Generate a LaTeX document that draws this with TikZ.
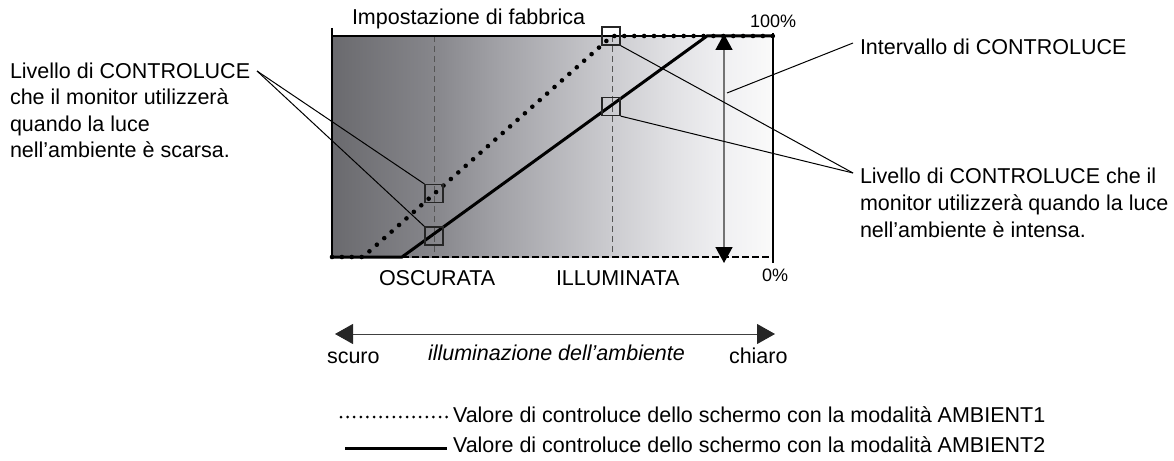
\documentclass[tikz,border=0pt]{standalone}
\usepackage{fontspec}
\setmainfont{Liberation Sans}
\usetikzlibrary{arrows.meta}
\definecolor{g0}{RGB}{106,106,110}
\definecolor{g1}{RGB}{134,134,139}
\definecolor{g2}{RGB}{162,162,167}
\definecolor{g3}{RGB}{204,204,208}
\definecolor{g4}{RGB}{225,225,228}
\definecolor{g5}{RGB}{240,240,242}
\definecolor{g6}{RGB}{250,250,250}
\definecolor{guidegray}{RGB}{85,85,85}
\pgfdeclarehorizontalshading{bggrad}{100bp}{color(0bp)=(g0); color(25bp)=(g0); color(36.5bp)=(g1); color(44bp)=(g2); color(56.75bp)=(g3); color(63.5bp)=(g4); color(69.5bp)=(g5); color(75bp)=(g6); color(100bp)=(g6)}
\begin{document}
\begin{tikzpicture}[x=1pt,y=-1pt,
  font=\fontsize{21.5}{25}\selectfont,
  txt/.style={anchor=base west, inner sep=0pt, outer sep=0pt},
  pct/.style={txt, font=\fontsize{18}{21}\selectfont},
  pointer/.style={line width=1pt, black},
  sq/.style={draw=black!85, line width=1.2pt, minimum size=18pt, inner sep=0pt},
  amb1/.style={line width=4.6pt, dash pattern=on 0pt off 9.9pt, line cap=round},
  amb1leg/.style={line width=3pt, dash pattern=on 0pt off 6.6pt, line cap=round},
  amb2/.style={line width=3pt},
  guide/.style={guidegray, line width=1pt, dash pattern=on 6pt off 4pt},
  edge/.style={black, line width=1.2pt}
]
\useasboundingbox (0,0) rectangle (1174,460);

% background gradient
\shade[shading=bggrad] (332,36) rectangle (773,257);

% corners
\coordinate (TL) at (332,36);
\coordinate (TLx) at (332,28);
\coordinate (TR) at (773,36);
\coordinate (TRx) at (773,33);
\coordinate (BL) at (332,257);
\coordinate (BR) at (773,257);
\coordinate (BRx) at (773,263);

% guides
\coordinate (gOt) at (434,36);
\coordinate (gOb) at (434,257);
\coordinate (gIt) at (612,36);
\coordinate (gIb) at (612,257);
\draw[guide] (gOt) -- (gOb);
\draw[guide] (gIt) -- (gIb);

% frame
\draw[edge] (TLx) -- (BL);
\draw[edge] (TRx) -- (BRx);
\draw[edge] (TL) -- (TR);
\draw[edge, dash pattern=on 6.5pt off 3.5pt] (BL) -- (BR);

% AMBIENT2 (solid)
\coordinate (a2s) at (402,257);
\coordinate (a2t) at (707,36);
\draw[amb2] (BL) -- (a2s) -- (a2t) -- (TR);

% AMBIENT1 (dotted)
\coordinate (a1s) at (363,257);
\coordinate (a1t) at (612,36);
\draw[amb1] (BL) -- (a1s) -- (a1t) -- (TR);

% squares
\node[sq] (sqA) at (434,193.5) {};
\node[sq] (sqB) at (434,236) {};
\node[sq] (sqC) at (611,36) {};
\node[sq] (sqD) at (611,106.5) {};

% range arrow
\coordinate (rTop) at (724,34);
\coordinate (rBot) at (724,263);
\draw[line width=1.5pt, black!55, {Triangle[length=16pt,width=17pt,black]}-{Triangle[length=16pt,width=17pt,black]}] (rTop) -- (rBot);

% texts
\node[txt] (fab) at (352,25) {Impostazione di fabbrica};
\node[pct] (p100) at (750,28) {100\%};
\node[pct] (p0) at (762,281) {0\%};
\node[txt] (osc) at (379,285) {OSCURATA};
\node[txt] (ill) at (556,285) {ILLUMINATA};

\node[txt] (lowL1) at (10,78) {Livello di CONTROLUCE};
\node[txt] (lowL2) at (10,104.5) {che il monitor utilizzerà};
\node[txt] (lowL3) at (10,131) {quando la luce};
\node[txt] (lowL4) at (10,157) {nell’ambiente è scarsa.};

\node[txt] (rng) at (860,55) {Intervallo di CONTROLUCE};

\node[txt] (hiL1) at (860,183) {Livello di CONTROLUCE che il};
\node[txt] (hiL2) at (860,210) {monitor utilizzerà quando la luce};
\node[txt] (hiL3) at (860,237) {nell’ambiente è intensa.};

% pointers
\coordinate (lowTip) at (257,71);
\draw[pointer] (lowTip) -- (sqA.north west);
\draw[pointer] (lowTip) -- (sqB.north west);
\coordinate (hiTip) at (853,173);
\draw[pointer] (sqC.south east) -- (hiTip);
\draw[pointer] (sqD.south east) -- (hiTip);
\coordinate (rngTip) at (853,43);
\coordinate (rngEnd) at (727,93);
\draw[pointer] (rngTip) -- (rngEnd);

% ambient illumination axis
\coordinate (axL) at (335,334);
\coordinate (axR) at (775,334);
\draw[line width=1pt, black!75, {Triangle[length=18pt,width=20pt,black!85]}-{Triangle[length=18pt,width=20pt,black!85]}] (axL) -- (axR);
\node[txt] (scuro) at (327,363) {scuro};
\node[txt, font=\fontsize{21.5}{25}\selectfont\itshape] (illum) at (428,360.5) {illuminazione dell’ambiente};
\node[txt] (chiaro) at (729,363) {chiaro};

% legend
\coordinate (l1a) at (341,417);
\coordinate (l1b) at (447,417);
\draw[amb1leg] (l1a) -- (l1b);
\node[txt] (leg1) at (453,422) {Valore di controluce dello schermo con la modalità AMBIENT1};
\coordinate (l2a) at (345,448);
\coordinate (l2b) at (447,448);
\draw[amb2] (l2a) -- (l2b);
\node[txt] (leg2) at (453,452.5) {Valore di controluce dello schermo con la modalità AMBIENT2};
\end{tikzpicture}
\end{document}
